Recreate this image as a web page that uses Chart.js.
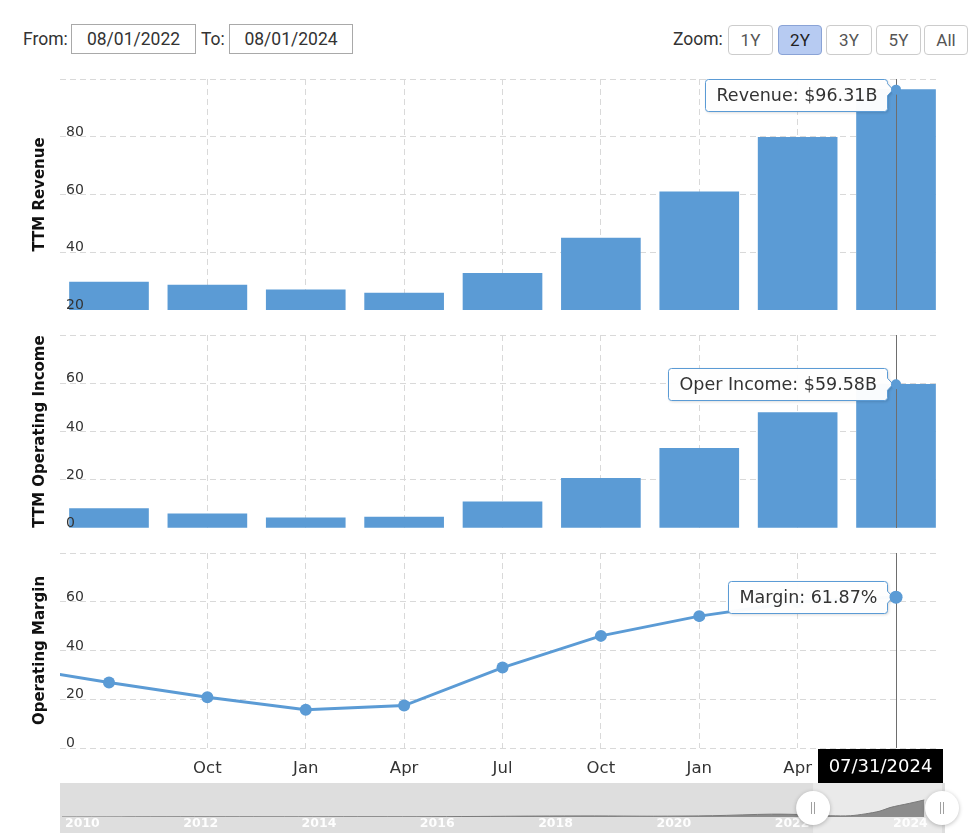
<!DOCTYPE html>
<html><head><meta charset="utf-8">
<script src="https://cdn.jsdelivr.net/npm/chart.js@4.4.1/dist/chart.umd.min.js"></script>
<style>
body{margin:0;background:#fff;width:971px;height:839px;overflow:hidden;position:relative;font-family:Roboto,sans-serif;color:#333}
.lbl{position:absolute;top:25px;font-size:17.5px;line-height:28px;color:#333}
.inp{position:absolute;top:24px;height:28px;border:1px solid #a9a9a9;font-size:17.5px;line-height:28px;text-align:center;color:#333;box-sizing:content-box}
.btn{position:absolute;top:25px;height:28px;border:1px solid #ccc;border-radius:4px;font-size:17px;line-height:28px;text-align:center;color:#555;background:#fff}
.btn.on{background:#b7cbf2;border-color:#8aa3d6;color:#222}
canvas{position:absolute;left:0}
</style></head><body>
<div class="lbl" style="left:23px">From:</div>
<div class="inp" style="left:71px;width:123px">08/01/2022</div>
<div class="lbl" style="left:201px">To:</div>
<div class="inp" style="left:229px;width:122px">08/01/2024</div>
<div class="lbl" style="left:673px">Zoom:</div>
<div class="btn" style="left:728px;width:43px">1Y</div>
<div class="btn on" style="left:778px;width:42px">2Y</div>
<div class="btn" style="left:826px;width:44px">3Y</div>
<div class="btn" style="left:876px;width:43px">5Y</div>
<div class="btn" style="left:924px;width:42px">All</div>

<canvas id="c1" width="971" height="231" style="top:79px"></canvas>
<canvas id="c2" width="971" height="193" style="top:335px"></canvas>
<canvas id="c3" width="971" height="230" style="top:553px"></canvas>
<canvas id="c4" width="971" height="50" style="top:783px"></canvas>

<script>
// ---- data (quarter ends, TTM values in $B and %) ----
const quarters   = ['04/30/2022','07/31/2022','10/31/2022','01/31/2023','04/30/2023','07/31/2023','10/31/2023','01/31/2024','04/30/2024','07/31/2024'];
const revenue    = [null, 29.7, 28.6, 27.0, 25.9, 32.7, 44.9, 60.9, 79.8, 96.31];
const opIncome   = [null, 8.0, 5.9, 4.2, 4.5, 10.8, 20.6, 33.0, 47.8, 59.58];
const opMargin   = [33.4, 26.9, 20.8, 15.7, 17.4, 33.0, 46.0, 54.1, 59.9, 61.87];
const xTickIdx   = [2, 3, 4, 5, 6, 7, 8];
const xTickLabels= ['Oct','Jan','Apr','Jul','Oct','Jan','Apr'];
const revTicks   = [20, 40, 60, 80, 100];
const oiTicks    = [0, 20, 40, 60, 80];
const mgTicks    = [0, 20, 40, 60, 80];
// navigator (full history, TTM operating income $B)
const navYears   = [2010, 2011, 2012, 2013, 2014, 2015, 2016, 2017, 2018, 2019, 2020, 2021, 2022, 2022.58, 2023, 2023.33, 2023.58, 2023.83, 2024, 2024.33, 2024.58];
const navValues  = [0.1, 0.3, 0.6, 0.6, 0.5, 0.8, 0.8, 1.9, 3.2, 3.8, 2.8, 4.5, 10.0, 8.0, 4.2, 4.5, 10.8, 20.6, 33.0, 47.8, 59.58];
const navLabels  = [2010, 2012, 2014, 2016, 2018, 2020, 2022, 2024];
const navRange   = [2022.70, 2024.88];

const BLUE = '#5b9bd5', GRID = '#d9d9d9';
const X_MIN = 0.502, X_MAX = 9.447;
const HOVER = quarters.length - 1;

function drawTip(ctx, a, px, py, text) {
  ctx.save();
  ctx.font = '17.5px "DejaVu Sans"';
  const tw = ctx.measureText(text).width;
  const h = 32, pad = 11, r = 3;
  const R = Math.round(px - 9) + 0.5, L = Math.round(R - tw - 2 * pad) + 0.5;
  const T = Math.round(Math.max(a.top, py - h / 2)) + 0.5, B = T + h;
  const ay = Math.min(Math.max(py, T + r + 6), B - r - 6);
  ctx.beginPath();
  ctx.moveTo(L + r, T); ctx.lineTo(R - r, T); ctx.quadraticCurveTo(R, T, R, T + r);
  ctx.lineTo(R, ay - 6); ctx.lineTo(px - 3, py); ctx.lineTo(R, ay + 6);
  ctx.lineTo(R, B - r); ctx.quadraticCurveTo(R, B, R - r, B);
  ctx.lineTo(L + r, B); ctx.quadraticCurveTo(L, B, L, B - r);
  ctx.lineTo(L, T + r); ctx.quadraticCurveTo(L, T, L + r, T);
  ctx.closePath();
  ctx.shadowColor = 'rgba(0,0,0,0.18)'; ctx.shadowBlur = 3; ctx.shadowOffsetX = 1; ctx.shadowOffsetY = 1;
  ctx.fillStyle = 'rgba(255,255,255,0.97)'; ctx.fill();
  ctx.shadowColor = 'transparent';
  ctx.strokeStyle = BLUE; ctx.lineWidth = 1; ctx.stroke();
  ctx.fillStyle = '#333'; ctx.textBaseline = 'middle'; ctx.textAlign = 'left';
  ctx.fillText(text, L + pad, (T + B) / 2 + 1);
  ctx.restore();
}

function panelPlugin(labels, values, fmt, markerR, dateBox) {
  return {
    id: 'panelDeco',
    afterDatasetsDraw(chart) {
      const {ctx, chartArea: a, scales: {x, y}} = chart;
      ctx.save();
      ctx.font = '14px "DejaVu Sans"';
      ctx.fillStyle = '#333'; ctx.textAlign = 'left'; ctx.textBaseline = 'alphabetic';
      labels.forEach(v => ctx.fillText(String(v), a.left + 6, y.getPixelForValue(v) - 1));
      const px = x.getPixelForValue(HOVER), py = y.getPixelForValue(values[HOVER]);
      const lx = Math.round(px) + 0.5;
      ctx.strokeStyle = '#6e6e6e'; ctx.lineWidth = 1;
      ctx.beginPath(); ctx.moveTo(lx, a.top); ctx.lineTo(lx, a.bottom); ctx.stroke();
      ctx.restore();
      drawTip(ctx, a, px, py, fmt(values[HOVER]));
      ctx.save();
      ctx.fillStyle = BLUE; ctx.beginPath(); ctx.arc(px, py, markerR, 0, Math.PI * 2); ctx.fill();
      if (dateBox) {
        const w = 125, bx = Math.min(px - w / 2, 943 - w), by = a.bottom + 1;
        ctx.fillStyle = '#000'; ctx.fillRect(bx, by, w, 34);
        ctx.fillStyle = '#fff'; ctx.font = '18px "DejaVu Sans"';
        ctx.textAlign = 'center'; ctx.textBaseline = 'middle';
        ctx.fillText(quarters[HOVER], bx + w / 2, by + 18);
      }
      ctx.restore();
    }
  };
}

function opts(yMin, yMax, yTicks, title, showX) {
  return {
    responsive: false, animation: false, events: [],
    layout: {autoPadding: false, padding: {left: 0, right: 31, top: 0, bottom: 0}},
    plugins: {legend: {display: false}, tooltip: {enabled: false}},
    scales: {
      x: {type: 'linear', min: X_MIN, max: X_MAX, offset: false,
        afterBuildTicks: s => { s.ticks = xTickIdx.map(v => ({value: v})); },
        afterFit: s => { s.height = showX ? 35 : 0; },
        grid: {color: GRID, drawTicks: false, offset: false, lineWidth: 1},
        border: {display: false, dash: [6, 4]},
        ticks: {display: showX, autoSkip: false, maxRotation: 0, padding: 11, color: '#333',
          font: {family: 'DejaVu Sans', size: 16.5},
          callback: (v, i) => xTickLabels[i]}},
      y: {min: yMin, max: yMax,
        afterBuildTicks: s => { s.ticks = yTicks.map(v => ({value: v})); },
        afterFit: s => { s.width = 60; },
        grid: {color: GRID, drawTicks: false, lineWidth: 1},
        border: {display: false, dash: [6, 4]},
        ticks: {display: false},
        title: {display: true, text: title, color: '#111',
          font: {family: 'DejaVu Sans', size: 15, weight: 'bold'}, padding: {top: 31, bottom: 0}}}
    }
  };
}

const pts = arr => arr.map((v, i) => ({x: i, y: v}));
const barDs = arr => ({type: 'bar', data: pts(arr), backgroundColor: BLUE, barThickness: 79, borderWidth: 0, grouped: false});

new Chart(document.getElementById('c1'), {
  type: 'bar', data: {datasets: [barDs(revenue)]},
  options: opts(20, 100, revTicks, 'TTM Revenue', false),
  plugins: [panelPlugin([20, 40, 60, 80], revenue, v => 'Revenue: $' + v.toFixed(2) + 'B', 5, false)]
});
new Chart(document.getElementById('c2'), {
  type: 'bar', data: {datasets: [barDs(opIncome)]},
  options: opts(0, 80, oiTicks, 'TTM Operating Income', false),
  plugins: [panelPlugin([0, 20, 40, 60], opIncome, v => 'Oper Income: $' + v.toFixed(2) + 'B', 5, false)]
});
new Chart(document.getElementById('c3'), {
  type: 'line', data: {datasets: [{data: pts(opMargin), borderColor: BLUE, borderWidth: 3, pointRadius: 6,
    pointBackgroundColor: BLUE, pointBorderWidth: 0, tension: 0, clip: 0}]},
  options: opts(0, 80, mgTicks, 'Operating Margin', true),
  plugins: [panelPlugin([0, 20, 40, 60], opMargin, v => 'Margin: ' + v.toFixed(2) + '%', 6.5, true)]
});

const navPlugin = {
  id: 'nav',
  beforeDatasetsDraw(chart) {
    const {ctx, scales: {x}} = chart;
    const L = 60, R = 945;
    ctx.save();
    ctx.fillStyle = '#dedede'; ctx.fillRect(L, 0, R - L, 50);
    const h1 = x.getPixelForValue(navRange[0]), h2 = x.getPixelForValue(navRange[1]);
    ctx.fillStyle = '#eaeaea'; ctx.fillRect(h1, 0, Math.min(h2, R) - h1, 50);
    ctx.restore();
  },
  afterDatasetsDraw(chart) {
    const {ctx, scales: {x}} = chart;
    ctx.save();
    ctx.font = 'bold 12.5px "DejaVu Sans"';
    ctx.fillStyle = 'rgba(255,255,255,0.95)'; ctx.textAlign = 'left'; ctx.textBaseline = 'alphabetic';
    navLabels.forEach(yr => ctx.fillText(String(yr), x.getPixelForValue(yr) + 3, 44));
    navRange.forEach(v => {
      const hx = x.getPixelForValue(v), hy = 25;
      ctx.save();
      ctx.shadowColor = 'rgba(0,0,0,0.25)'; ctx.shadowBlur = 4; ctx.shadowOffsetY = 1;
      ctx.fillStyle = '#fff'; ctx.beginPath(); ctx.arc(hx, hy, 17, 0, Math.PI * 2); ctx.fill();
      ctx.restore();
      ctx.strokeStyle = '#a0a0a0'; ctx.lineWidth = 1;
      ctx.beginPath();
      ctx.moveTo(Math.round(hx) - 1.5, hy - 6); ctx.lineTo(Math.round(hx) - 1.5, hy + 6);
      ctx.moveTo(Math.round(hx) + 1.5, hy - 6); ctx.lineTo(Math.round(hx) + 1.5, hy + 6);
      ctx.stroke();
    });
    ctx.restore();
  }
};
new Chart(document.getElementById('c4'), {
  type: 'line',
  data: {datasets: [{data: navYears.map((yr, i) => ({x: yr, y: navValues[i]})), fill: 'origin',
    backgroundColor: '#8c8c8c', borderColor: '#7a7a7a', borderWidth: 1, pointRadius: 0, tension: 0.3}]},
  options: {responsive: false, animation: false, events: [],
    layout: {autoPadding: false, padding: {left: 60, right: 26, top: 0, bottom: 16}},
    plugins: {legend: {display: false}, tooltip: {enabled: false}},
    scales: {x: {type: 'linear', display: false, min: 2009.966, max: 2024.93},
             y: {display: false, min: 0, max: 119}}},
  plugins: [navPlugin]
});
</script>
</body></html>
